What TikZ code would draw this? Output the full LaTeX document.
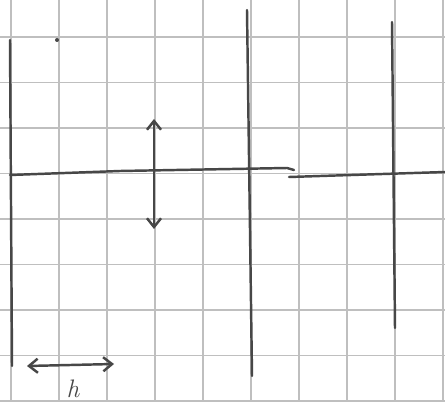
\documentclass[tikz,border=0pt]{standalone}
\usetikzlibrary{arrows.meta}
\begin{document}
\begin{tikzpicture}[x=0.2mm,y=-0.2mm,
  gridline/.style={draw=black!25,line width=0.9pt},
  pen/.style={draw=black!72,line width=1.4pt,line cap=round,line join=round},
  dimarrow/.style={pen,{Straight Barb[length=5pt,width=8pt]}-{Straight Barb[length=5pt,width=8pt]}}]
\fill[white] (0,0) rectangle (445,402);
\useasboundingbox (0,0) rectangle (445,402);
% grid paper
\foreach \k in {0,...,9} \draw[gridline] ({11+48*\k},0) -- ({11+48*\k},402);
\foreach \k in {0,...,8} \draw[gridline] (0,{37+45.5*\k}) -- (445,{37+45.5*\k});
% coordinates
\coordinate (L1) at (10,40);   \coordinate (L2) at (12,366);
\coordinate (M1) at (247,10);  \coordinate (M2) at (252,376);
\coordinate (R1) at (392,22);  \coordinate (R2) at (395,328);
\coordinate (H1) at (10,175);  \coordinate (H2) at (287,168);
\coordinate (H3) at (289,177); \coordinate (H4) at (445,172);
\coordinate (A1) at (154,119); \coordinate (A2) at (154,229);
\coordinate (B1) at (27,366);  \coordinate (B2) at (114,364);
% strokes
\draw[pen] (L1) -- (L2);
\draw[pen] (M1) -- (M2);
\draw[pen] (R1) -- (R2);
\draw[pen] (H1) -- (120,171) -- (H2) -- (294,170);
\draw[pen] (H3) -- (H4);
\draw[dimarrow] (A1) -- (A2);
\draw[dimarrow] (B1) -- (B2);
\fill[black!72] (57,40) circle (2);
\node[text=black!72,font=\Large\itshape] (h) at (73,389) {h};
\end{tikzpicture}
\end{document}
